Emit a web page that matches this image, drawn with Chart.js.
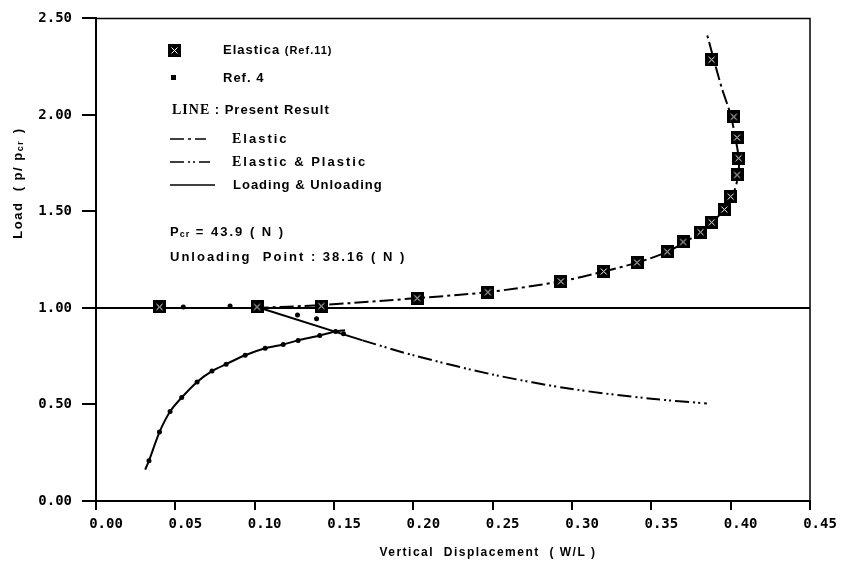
<!DOCTYPE html>
<html>
<head>
<meta charset="utf-8">
<script src="https://cdn.jsdelivr.net/npm/chart.js@4.4.1/dist/chart.umd.min.js"></script>
<style>
  html, body { margin: 0; padding: 0; background: #fff; }
  #wrap { width: 842px; height: 568px; }
</style>
</head>
<body>
<div id="wrap"><canvas id="chart" width="842" height="568"></canvas></div>
<script>
// Tick values
const xTickValues = [0.00, 0.05, 0.10, 0.15, 0.20, 0.25, 0.30, 0.35, 0.40, 0.45];
const yTickValues = [0.00, 0.50, 1.00, 1.50, 2.00, 2.50];

// Elastica (Ref.11) - squares
const elasticaX = [0.040, 0.1015, 0.142, 0.2024, 0.247, 0.293, 0.320, 0.341, 0.360, 0.370, 0.381, 0.388, 0.396, 0.400, 0.404, 0.405, 0.404, 0.402, 0.388];
const elasticaY = [1.005, 1.005, 1.01, 1.051, 1.082, 1.138, 1.189, 1.235, 1.291, 1.342, 1.393, 1.444, 1.51, 1.577, 1.689, 1.776, 1.883, 1.99, 2.286];

// Ref. 4 - small dots
const ref4X = [0.0334, 0.040, 0.0467, 0.054, 0.0637, 0.0731, 0.082, 0.094, 0.1066, 0.118, 0.1274, 0.141, 0.151, 0.156, 0.127, 0.139, 0.055, 0.0845, 0.100];
const ref4Y = [0.209, 0.357, 0.464, 0.536, 0.617, 0.673, 0.709, 0.755, 0.791, 0.811, 0.832, 0.857, 0.878, 0.867, 0.964, 0.944, 1.005, 1.01, 1.0];

// Present result: lines
const baseX = [0.00, 0.45];
const baseY = [1.00, 1.00];
const loadX = [0.031, 0.0334, 0.040, 0.0467, 0.054, 0.0637, 0.0731, 0.082, 0.094, 0.1066, 0.118, 0.1274, 0.141, 0.151, 0.157];
const loadY = [0.163, 0.209, 0.357, 0.464, 0.536, 0.617, 0.673, 0.709, 0.755, 0.791, 0.811, 0.832, 0.857, 0.878, 0.885];
const unloadX = [0.1015, 0.168];
const unloadY = [1.005, 0.832];
const elasticX = [0.100, 0.142, 0.2024, 0.247, 0.293, 0.320, 0.341, 0.360, 0.381, 0.396, 0.402, 0.405, 0.405, 0.403, 0.400, 0.394, 0.385];
const elasticY = [1.00, 1.015, 1.051, 1.082, 1.138, 1.189, 1.235, 1.291, 1.393, 1.51, 1.60, 1.70, 1.78, 1.88, 2.00, 2.15, 2.42];
const epX = [0.168, 0.20, 0.25, 0.30, 0.35, 0.385];
const epY = [0.832, 0.755, 0.655, 0.58, 0.53, 0.505];

const pts = (xs, ys) => xs.map((x, i) => ({ x: x, y: ys[i] }));

const DASH_DOT = [14, 4, 3, 4];
const DASH_DOT_DOT = [14, 4, 2, 3, 2, 4];

// boxed-cross marker
function makeBoxCross(size) {
    const c = document.createElement('canvas');
    c.width = size; c.height = size;
    const g = c.getContext('2d');
    g.fillStyle = '#000';
    g.fillRect(0, 0, size, size);
    g.strokeStyle = '#fff';
    g.lineWidth = 1;
    g.beginPath();
    g.moveTo(3.5, 3.5); g.lineTo(size - 3.5, size - 3.5);
    g.moveTo(size - 3.5, 3.5); g.lineTo(3.5, size - 3.5);
    g.stroke();
    return c;
}
const boxCross = makeBoxCross(13);

// frame + annotations drawn on top
const annotate = {
    id: 'annotate',
    afterDraw(chart) {
        const { ctx, chartArea: a } = chart;
        ctx.save();
        ctx.strokeStyle = '#000';
        ctx.lineWidth = 1.5;
        ctx.beginPath();
        ctx.moveTo(a.left, a.top);
        ctx.lineTo(a.right, a.top);
        ctx.lineTo(a.right, a.bottom);
        ctx.stroke();

        ctx.fillStyle = '#000';
        ctx.textBaseline = 'middle';
        ctx.textAlign = 'left';
        const sans = "bold 13px 'Liberation Sans', Arial, sans-serif";
        const serif = "bold 14px 'Liberation Serif', 'DejaVu Serif', serif";
        ctx.letterSpacing = '1px';

        // legend rows
        ctx.drawImage(boxCross, 168, 44);
        ctx.font = sans;
        ctx.fillText('Elastica', 223, 50);
        let w = ctx.measureText('Elastica ').width;
        ctx.font = "bold 11px 'Liberation Sans', Arial, sans-serif";
        ctx.fillText('(Ref.11)', 223 + w, 51);

        ctx.fillRect(171, 75, 5, 5);
        ctx.font = sans;
        ctx.fillText('Ref. 4', 223, 78);

        ctx.font = serif;
        ctx.fillText('LINE', 172, 110);
        w = ctx.measureText('LINE ').width;
        ctx.font = sans;
        ctx.fillText(': Present Result', 172 + w, 110);

        ctx.lineWidth = 1.5;
        ctx.setLineDash(DASH_DOT);
        ctx.beginPath(); ctx.moveTo(170, 139); ctx.lineTo(206, 139); ctx.stroke();
        ctx.setLineDash(DASH_DOT_DOT);
        ctx.beginPath(); ctx.moveTo(170, 162); ctx.lineTo(210, 162); ctx.stroke();
        ctx.setLineDash([]);
        ctx.beginPath(); ctx.moveTo(170, 185); ctx.lineTo(215, 185); ctx.stroke();

        ctx.letterSpacing = '2px';
        ctx.font = serif;
        ctx.fillText('E', 232, 139);
        ctx.fillText('E', 232, 162);
        w = ctx.measureText('E').width;
        ctx.font = sans;
        ctx.fillText('lastic', 232 + w, 139);
        ctx.fillText('lastic & Plastic', 232 + w, 162);
        ctx.letterSpacing = '1px';
        ctx.fillText('Loading & Unloading', 233, 185);

        // Pcr text
        ctx.font = sans;
        ctx.fillText('P', 170, 232);
        w = ctx.measureText('P').width;
        ctx.font = "bold 9px 'Liberation Sans', Arial, sans-serif";
        ctx.fillText('cr', 170 + w, 235);
        w += ctx.measureText('cr').width;
        ctx.font = sans;
        ctx.letterSpacing = '2px';
        ctx.fillText(' = 43.9 ( N )', 170 + w, 232);
        ctx.fillText('Unloading  Point : 38.16 ( N )', 170, 257);

        // x axis title
        ctx.letterSpacing = '1.5px';
        ctx.textAlign = 'center';
        ctx.font = "bold 12px 'Liberation Sans', Arial, sans-serif";
        ctx.fillText('Vertical  Displacement  ( W/L )', 488, 553);

        // y axis title
        ctx.font = "bold 13px 'Liberation Sans', Arial, sans-serif";
        ctx.translate(18, 183);
        ctx.rotate(-Math.PI / 2);
        ctx.textAlign = 'left';
        const parts1 = 'Load  ( p/ p';
        const total = ctx.measureText(parts1).width + 13 + ctx.measureText(' )').width;
        let x0 = -total / 2;
        ctx.fillText(parts1, x0, 0);
        x0 += ctx.measureText(parts1).width;
        ctx.font = "bold 9px 'Liberation Sans', Arial, sans-serif";
        ctx.fillText('cr', x0, 3);
        x0 += 13;
        ctx.font = "bold 13px 'Liberation Sans', Arial, sans-serif";
        ctx.fillText(' )', x0, 0);
        ctx.restore();
    }
};

const tickFont = { family: "'DejaVu Sans Mono', monospace", size: 14, weight: 'bold' };

new Chart(document.getElementById('chart'), {
    type: 'scatter',
    data: {
        datasets: [
            {
                label: 'Elastica (Ref.11)',
                data: pts(elasticaX, elasticaY),
                pointStyle: boxCross,
                pointRadius: 6,
                showLine: false
            },
            {
                label: 'Ref. 4',
                data: pts(ref4X, ref4Y),
                pointRadius: 2.5,
                pointBackgroundColor: '#000',
                pointBorderWidth: 0,
                showLine: false
            },
            {
                label: 'Loading',
                data: pts(loadX, loadY),
                showLine: true, pointRadius: 0,
                borderColor: '#000', borderWidth: 2, tension: 0.3
            },
            {
                label: 'Unloading',
                data: pts(unloadX, unloadY),
                showLine: true, pointRadius: 0,
                borderColor: '#000', borderWidth: 2
            },
            {
                label: 'Base',
                data: pts(baseX, baseY),
                showLine: true, pointRadius: 0,
                borderColor: '#000', borderWidth: 2
            },
            {
                label: 'Elastic',
                data: pts(elasticX, elasticY),
                showLine: true, pointRadius: 0,
                borderColor: '#000', borderWidth: 2, borderDash: DASH_DOT, tension: 0.3
            },
            {
                label: 'Elastic & Plastic',
                data: pts(epX, epY),
                showLine: true, pointRadius: 0,
                borderColor: '#000', borderWidth: 2, borderDash: DASH_DOT_DOT, tension: 0.3
            }
        ]
    },
    options: {
        responsive: false,
        animation: false,
        layout: { padding: { left: 0, right: 32, top: 11, bottom: 0 } },
        plugins: { legend: { display: false }, tooltip: { enabled: false } },
        scales: {
            x: {
                type: 'linear',
                min: 0, max: 0.45,
                afterBuildTicks: s => { s.ticks = xTickValues.map(v => ({ value: v })); },
                afterFit: s => { s.height = 67; },
                ticks: {
                    color: '#000', font: tickFont, padding: 6, labelOffset: 10,
                    maxRotation: 0, autoSkip: false,
                    callback: v => v.toFixed(2)
                },
                grid: { drawOnChartArea: false, drawTicks: true, tickLength: 9, color: '#000', lineWidth: 2 },
                border: { display: true, color: '#000', width: 2 }
            },
            y: {
                type: 'linear',
                min: 0, max: 2.5,
                afterBuildTicks: s => { s.ticks = yTickValues.map(v => ({ value: v })); },
                afterFit: s => { s.width = 96; },
                ticks: {
                    color: '#000', font: tickFont, padding: 10,
                    callback: v => v.toFixed(2)
                },
                grid: { drawOnChartArea: false, drawTicks: true, tickLength: 14, color: '#000', lineWidth: 2 },
                border: { display: true, color: '#000', width: 2 }
            }
        }
    },
    plugins: [annotate]
});
</script>
</body>
</html>
